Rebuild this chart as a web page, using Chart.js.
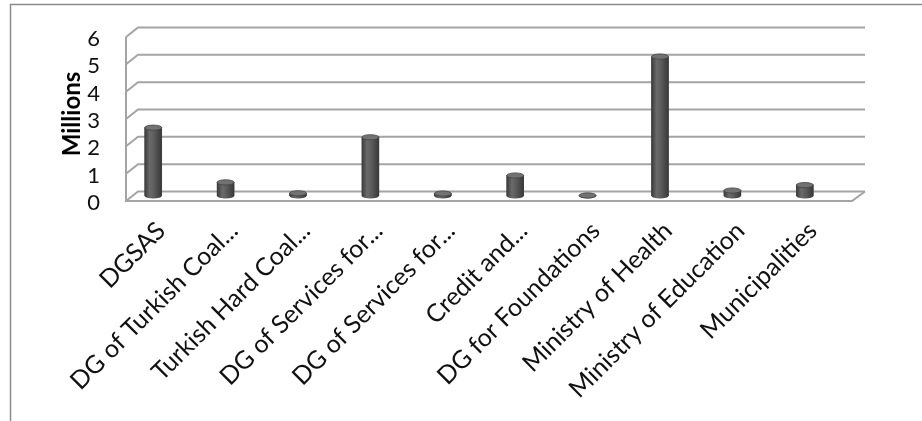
<!DOCTYPE html>
<html>
<head>
<meta charset="utf-8">
<script src="https://cdn.jsdelivr.net/npm/chart.js@4.4.1/dist/chart.umd.min.js"></script>
<style>
  html, body { margin: 0; padding: 0; background: #fff; }
</style>
</head>
<body>
<canvas id="chart" width="922" height="421"></canvas>
<script>
const categories = ['DGSAS', 'DG of Turkish Coal...', 'Turkish Hard Coal...', 'DG of Services for...', 'DG of Services for...', 'Credit and...', 'DG for Foundations', 'Ministry of Health', 'Ministry of Education', 'Municipalities'];
const values = [2.5, 0.5, 0.1, 2.15, 0.09, 0.75, 0.02, 5.1, 0.2, 0.4];
const yTicks = [0, 1, 2, 3, 4, 5, 6];

// excel style 3d walls: back grid, left wall edge, floor
const frame3d = {
    id: 'frame3d',
    beforeDraw(chart) {
        const ctx = chart.ctx;
        ctx.save();
        ctx.strokeStyle = '#8c8c8c';
        ctx.lineWidth = 1.5;
        ctx.strokeRect(10.5, 4.5, 1000, 500);
        ctx.restore();
    },
    beforeDatasetsDraw(chart) {
        const {ctx, chartArea: a, scales: {y}} = chart;
        const fl = a.left + 9, bl = a.left + 21, br = a.right + 24, fr = a.right + 11;
        ctx.save();
        ctx.strokeStyle = '#a4a4a4';
        ctx.lineWidth = 2;
        yTicks.forEach((v) => {
            const p = y.getPixelForValue(v);
            ctx.beginPath();
            ctx.moveTo(fl, p + 5);
            ctx.lineTo(bl, p - 4.5);
            ctx.lineTo(br, p - 4.5);
            ctx.stroke();
        });
        const top = y.getPixelForValue(6), zero = y.getPixelForValue(0);
        ctx.beginPath();
        ctx.moveTo(fl, top + 5);
        ctx.lineTo(fl, zero + 5);
        ctx.lineTo(fr, zero + 5);
        ctx.lineTo(br, zero - 4.5);
        ctx.stroke();
        ctx.restore();
    },
    afterDatasetsDraw(chart) {
        const ctx = chart.ctx;
        const meta = chart.getDatasetMeta(0);
        ctx.save();
        meta.data.forEach((bar) => {
            const {x, y, base, width} = bar.getProps(['x', 'y', 'base', 'width'], true);
            const r = width / 2, ry = 2.6;
            const g = ctx.createLinearGradient(x - r, 0, x + r, 0);
            g.addColorStop(0, '#3a3a3a');
            g.addColorStop(0.3, '#6a6a6a');
            g.addColorStop(0.55, '#5c5c5c');
            g.addColorStop(1, '#383838');
            ctx.fillStyle = g;
            ctx.beginPath();
            ctx.moveTo(x - r, y);
            ctx.lineTo(x - r, base);
            ctx.ellipse(x, base, r, ry, 0, Math.PI, 0, true);
            ctx.lineTo(x + r, y);
            ctx.closePath();
            ctx.fill();
            ctx.fillStyle = '#727272';
            ctx.strokeStyle = '#444';
            ctx.lineWidth = 0.8;
            ctx.beginPath();
            ctx.ellipse(x, y, r, ry, 0, 0, Math.PI * 2);
            ctx.fill();
            ctx.stroke();
        });
        ctx.restore();
    }
};

const ctx = document.getElementById('chart').getContext('2d');
const myChart = new Chart(ctx, {
    type: 'bar',
    data: {
        labels: categories,
        datasets: [{
            data: values,
            backgroundColor: '#4a4a4a',
            barThickness: 17
        }]
    },
    options: {
        responsive: false,
        animation: false,
        layout: {
            padding: {left: 56, top: 32, right: 81, bottom: 0}
        },
        plugins: {
            legend: {display: false},
            tooltip: {enabled: false}
        },
        scales: {
            x: {
                grid: {display: false, drawTicks: false},
                border: {display: false},
                ticks: {
                    color: '#111',
                    font: {family: 'Lato', size: 25},
                    maxRotation: 45,
                    minRotation: 45,
                    autoSkip: false,
                    padding: 20,
                    labelOffset: 8
                },
                afterFit(s) { s.height = 225; }
            },
            y: {
                min: 0,
                max: 6,
                grid: {display: false, drawTicks: false},
                border: {display: false},
                ticks: {
                    stepSize: 1,
                    autoSkip: false,
                    color: '#111',
                    font: {family: 'Lato', size: 22},
                    padding: 17,
                    labelOffset: 7
                },
                title: {
                    display: true,
                    text: 'Millions',
                    color: '#000',
                    font: {family: 'Lato', size: 24, weight: 'bold'},
                    padding: {top: 2, bottom: 2}
                },
                afterFit(s) { s.width = 61; }
            }
        }
    },
    plugins: [frame3d]
});
</script>
</body>
</html>
